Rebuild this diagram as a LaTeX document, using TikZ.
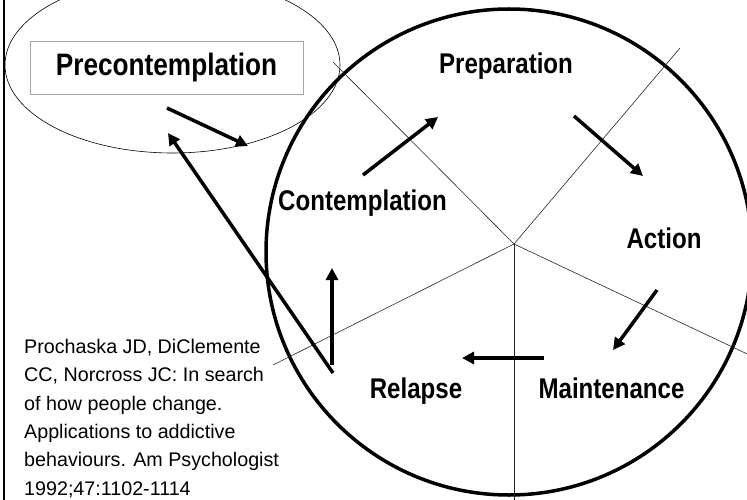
\documentclass[tikz,border=0pt]{standalone}
\usepackage{fontspec}
\setmainfont{Liberation Sans}
\newfontfamily\stagefont{Liberation Sans}[FakeStretch=0.845]
\usetikzlibrary{arrows.meta}

\begin{document}
\begin{tikzpicture}[x=1pt,y=-1pt,
  stage/.style={font=\stagefont\bfseries\fontsize{28.5}{32}\selectfont,inner sep=0pt,anchor=base},
  prebox/.style={draw=gray!70,line width=0.8pt,minimum width=273pt,minimum height=53pt,
    inner sep=0pt,font=\stagefont\bfseries\fontsize{31}{35}\selectfont},
  spoke/.style={line width=0.6pt,draw=black!85},
  move/.style={line width=3.5pt,-{Triangle[length=12pt,width=12pt]}}]
 \useasboundingbox (0,0) rectangle (747,500);
 \clip (0,0) rectangle (747,500);
 \draw [line width=2.5pt] (4,0) -- (4,500);
 \draw [line width=3.5pt] (509,252) circle [radius=243pt];
 \coordinate (hub) at (514,244);
 \coordinate (ul) at (333,62);
 \coordinate (ur) at (680,48);
 \coordinate (ll) at (273,365);
 \coordinate (lr) at (760,360);
 \coordinate (dn) at (514,500);
 \draw [spoke] (hub) -- (ul);
 \draw [spoke] (hub) -- (ur);
 \draw [spoke] (hub) -- (ll);
 \draw [spoke] (hub) -- (lr);
 \draw [spoke] (hub) -- (dn);
 \draw [line width=0.6pt] (172.5,65) ellipse [x radius=167.5pt,y radius=88pt];
 \node [prebox] (pre) at (166.5,67.5) {Precontemplation};
 \node [stage] (prep) at (506,74) {Preparation};
 \node [stage] (cont) at (362.5,210) {Contemplation};
 \node [stage] (act) at (664,248) {Action};
 \node [stage] (rel) at (416,398) {Relapse};
 \node [stage] (main) at (611.5,398) {Maintenance};
 \node [anchor=base west,align=left,inner sep=0pt,font=\fontsize{19.7}{28.3}\selectfont] (ref) at (24,495)
 {Prochaska JD, DiClemente\\CC, Norcross JC: In search\\of how people change.\\Applications to addictive\\behaviours. Am Psychologist\\1992;47:1102-1114};
 \coordinate (a1) at (167,108);
 \coordinate (b1) at (248,146);
 \coordinate (a2) at (333,373);
 \coordinate (b2) at (168,133);
 \coordinate (a3) at (332,365);
 \coordinate (b3) at (332,268);
 \coordinate (a4) at (363,175);
 \coordinate (b4) at (438,117);
 \coordinate (a5) at (574,116);
 \coordinate (b5) at (643,176);
 \coordinate (a6) at (657,290);
 \coordinate (b6) at (613,350);
 \coordinate (a7) at (544,358);
 \coordinate (b7) at (462,358);
 \draw [move] (a1) -- (b1);
 \draw [move] (a2) -- (b2);
 \draw [move] (a3) -- (b3);
 \draw [move] (a4) -- (b4);
 \draw [move] (a5) -- (b5);
 \draw [move] (a6) -- (b6);
 \draw [move] (a7) -- (b7);
\end{tikzpicture}
\end{document}
